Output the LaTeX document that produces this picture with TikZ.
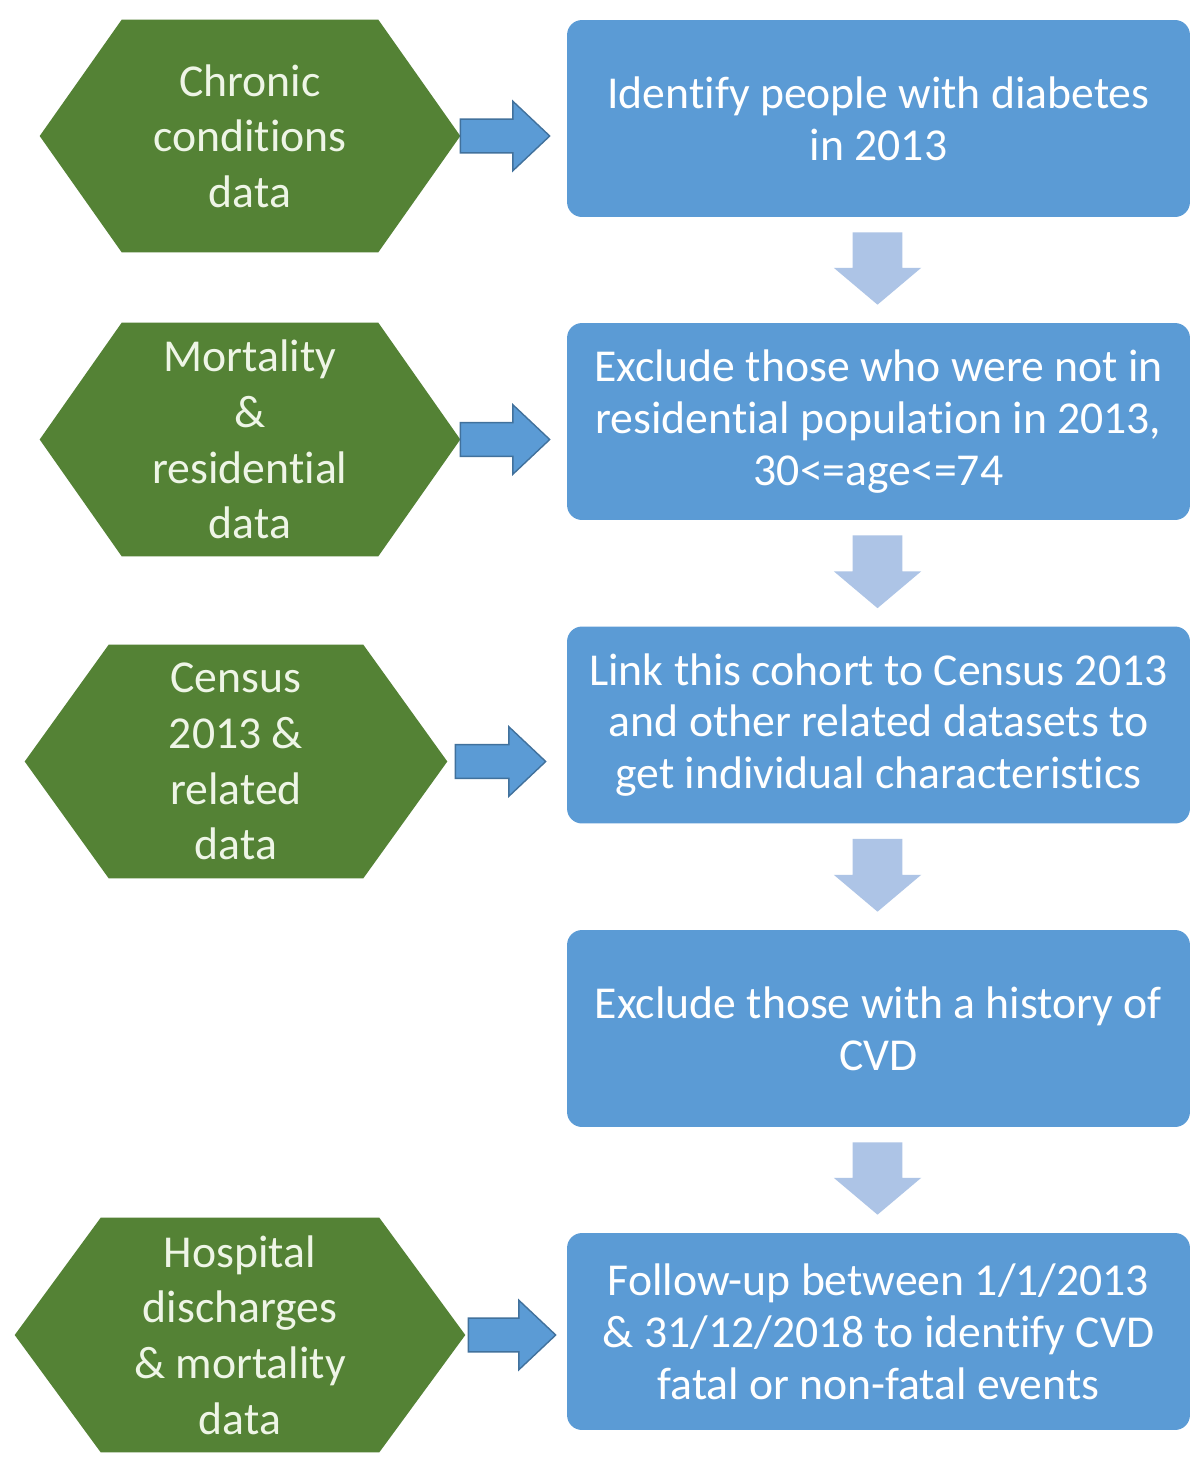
\documentclass[tikz,border=0pt]{standalone}
\usepackage{fontspec}
\setmainfont{Carlito}[Ligatures={NoCommon,NoContextual},Contextuals=NoAlternate]
\usetikzlibrary{calc,backgrounds}
\definecolor{hexgreen}{HTML}{548235}
\definecolor{boxblue}{HTML}{5B9BD5}
\definecolor{arredge}{HTML}{41719C}
\definecolor{downblue}{HTML}{ADC4E6}
\definecolor{hextext}{HTML}{EEF5E6}
\newcommand\hexbg[2]{%
  \fill[hexgreen] (#1.west) -- ($(#1.north west)+(#2,0)$) -- ($(#1.north east)+(-#2,0)$) -- (#1.east)
    -- ($(#1.south east)+(-#2,0)$) -- ($(#1.south west)+(#2,0)$) -- cycle;}
\newcommand\rarr[4]{%
  \filldraw[rarrow] let \p1=($(#1.east)+(#3,0)$), \p2=($(#2.west)+(-#4,0)$) in
   (\x1,\y1-9.6pt) -- (\x2-21pt,\y1-9.6pt) -- (\x2-21pt,\y1-19.8pt) -- (\x2,\y1)
   -- (\x2-21pt,\y1+19.8pt) -- (\x2-21pt,\y1+9.6pt) -- (\x1,\y1+9.6pt) -- cycle;}
\newcommand\darr[2]{%
  \fill[darrow] let \p1=($(#1.south)+(-1,15)$), \p2=($(#2.north)+(0,-18)$) in
   (\x1-14.2pt,\y1) -- (\x1-14.2pt,\y2+21pt) -- (\x1-24.9pt,\y2+21pt) -- (\x1,\y2)
   -- (\x1+24.9pt,\y2+21pt) -- (\x1+14.2pt,\y2+21pt) -- (\x1+14.2pt,\y1) -- cycle;}
\begin{document}
\begin{tikzpicture}[x=0.02cm,y=-0.02cm,
  stepbox/.style={rectangle, rounded corners=8.5pt, fill=boxblue, minimum width=12.46cm,
    minimum height=3.94cm, text=white, align=center, inner sep=0pt,
    font=\fontsize{26}{29.5}\selectfont},
  hexnode/.style={rectangle, align=center, text=hextext, inner sep=0pt,
    font=\fontsize{26}{31.7}\selectfont},
  rarrow/.style={fill=boxblue, draw=arredge, line width=0.8pt, line join=miter},
  darrow/.style={fill=downblue}]
\useasboundingbox (0,0) rectangle (1200,1478);

% data sources (hexagons)
\node[hexnode, minimum width=8.4cm, minimum height=4.64cm] (h1) at (250,136)
  {Chronic\\conditions\\data};
\node[hexnode, minimum width=8.4cm, minimum height=4.66cm] (h2) at (250,439.5)
  {Mortality\\\&\\residential\\data};
\node[hexnode, minimum width=8.44cm, minimum height=4.66cm] (h3) at (236,761.5)
  {Census\\2013 \&\\related\\data};
\node[hexnode, minimum width=9.0cm, minimum height=4.68cm] (h4) at (240,1335)
  {Hospital\\discharges\\\& mortality\\data};
\begin{scope}[on background layer]
  \fill[white] (0,0) rectangle (1200,1478);
  \hexbg{h1}{82}
  \hexbg{h2}{82}
  \hexbg{h3}{84}
  \hexbg{h4}{86}
\end{scope}

% process steps
\node[stepbox] (b1) at (878.5,118.5) {Identify people with diabetes\\in 2013};
\node[stepbox] (b2) at (878.5,421.5) {Exclude those who were not in\\residential population in 2013,\\30<=age<=74};
\node[stepbox] (b3) at (878.5,725) {Link this cohort to Census 2013\\and other related datasets to\\get individual characteristics};
\node[stepbox] (b4) at (878.5,1028.5) {Exclude those with a history of\\CVD};
\node[stepbox] (b5) at (878.5,1331.5) {Follow-up between 1/1/2013\\\& 31/12/2018 to identify CVD\\fatal or non-fatal events};

% connectors
\rarr{h1}{b1}{0}{17}
\rarr{h2}{b2}{0}{17}
\rarr{h3}{b3}{8}{21}
\rarr{h4}{b5}{3}{11}
\darr{b1}{b2}
\darr{b2}{b3}
\darr{b3}{b4}
\darr{b4}{b5}
\end{tikzpicture}
\end{document}
